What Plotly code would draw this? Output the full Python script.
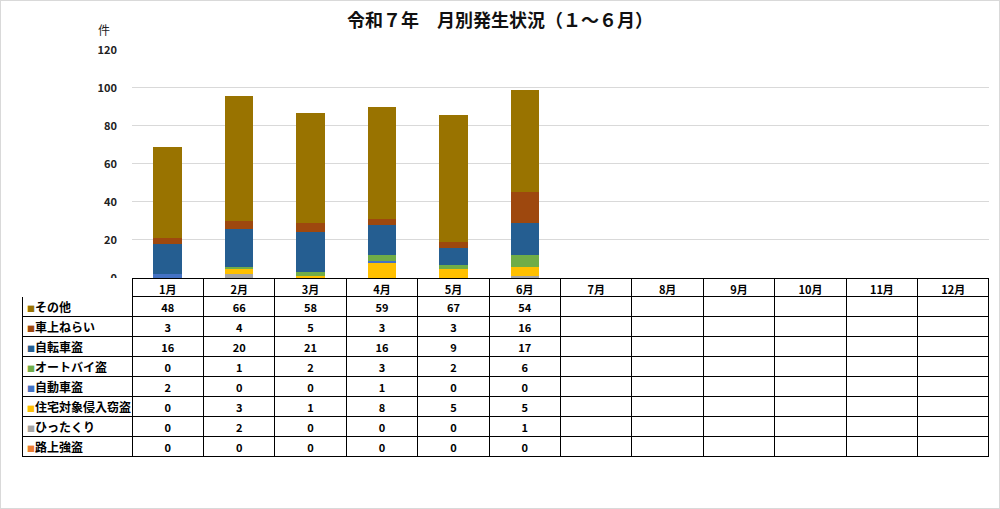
import plotly.graph_objects as go

# 月
months = ['1月', '2月', '3月', '4月', '5月', '6月', '7月', '8月', '9月', '10月', '11月', '12月']

# 罪種（表の上から順）
crimes = ['その他', '車上ねらい', '自転車盗', 'オートバイ盗', '自動車盗', '住宅対象侵入窃盗', 'ひったくり', '路上強盗']

# 件数（1～6月）
sonota = [48, 66, 58, 59, 67, 54]
shajo = [3, 4, 5, 3, 3, 16]
jitensha = [16, 20, 21, 16, 9, 17]
autobai = [0, 1, 2, 3, 2, 6]
jidosha = [2, 0, 0, 1, 0, 0]
jutaku = [0, 3, 1, 8, 5, 5]
hittakuri = [0, 2, 0, 0, 0, 1]
rojo = [0, 0, 0, 0, 0, 0]

values = [sonota, shajo, jitensha, autobai, jidosha, jutaku, hittakuri, rojo]
colors = ['#997300', '#9E480E', '#255E91', '#70AD47', '#4472C4', '#FFC000', '#A5A5A5', '#ED7D31']

W, H = 1000, 509
font = 'Noto Sans CJK JP'

# table geometry (px)
tab_top, head_h, row_h = 278, 18, 20
tab_bottom = tab_top + head_h + row_h * len(crimes)

fig = go.Figure()

# 積み上げ棒（下から 路上強盗 → その他）
for name, vals, col in reversed(list(zip(crimes, values, colors))):
    fig.add_trace(go.Bar(
        x=months[:len(vals)],
        y=vals,
        name=name,
        marker=dict(color=col, line=dict(width=0)),
        width=0.4,
        showlegend=False
    ))

# データテーブル（先頭列は凡例ラベル用の空欄）
cols = [[''] * len(crimes)]
for i, m in enumerate(months):
    cols.append([str(v[i]) if i < len(v) else '' for v in values])

fig.add_trace(go.Table(
    domain=dict(x=[22 / W, 989 / W], y=[1 - (tab_bottom + 20) / H, 1 - tab_top / H]),
    columnwidth=[110] + [71.4] * 12,
    header=dict(
        values=[''] + months,
        height=head_h,
        align='center',
        fill_color='white',
        line=dict(color=['white'] + ['black'] * 12, width=1),
        font=dict(family=font, size=11, color='black', weight='bold')
    ),
    cells=dict(
        values=cols,
        height=row_h,
        align='center',
        fill_color='white',
        line=dict(color='black', width=1),
        font=dict(family=font, size=11, color='black', weight='bold')
    )
))

# 凡例ラベル
annotations = [dict(
    text='件', xref='paper', yref='paper',
    x=104 / W, y=1 - 30 / H, xanchor='center', yanchor='middle',
    showarrow=False, font=dict(family=font, size=12, color='#222222')
)]
for k, (name, col) in enumerate(zip(crimes, colors)):
    yc = tab_top + head_h + row_h * (k + 0.5)
    annotations.append(dict(
        text='<span style="color:%s;font-size:8px">■</span>%s' % (col, name),
        xref='paper', yref='paper',
        x=25 / W, y=1 - yc / H, xanchor='left', yanchor='middle',
        showarrow=False, font=dict(family=font, size=12, color='black', weight='bold')
    ))

fig.update_layout(
    width=W, height=H,
    margin=dict(l=0, r=0, t=0, b=0, autoexpand=False),
    paper_bgcolor='white',
    plot_bgcolor='white',
    barmode='stack',
    font=dict(family=font, color='#222222'),
    title=dict(
        text='令和７年　月別発生状況（１～６月）',
        x=0.5, xanchor='center', y=1 - 21 / H, yanchor='middle',
        font=dict(family=font, size=18, color='#111111', weight='bold')
    ),
    xaxis=dict(
        domain=[132 / W, 989 / W],
        type='category',
        categoryorder='array',
        categoryarray=months,
        range=[-0.5, 11.5],
        showticklabels=False,
        showgrid=False,
        ticks=''
    ),
    yaxis=dict(
        domain=[1 - tab_top / H, 1 - 49 / H],
        range=[0, 120.5],
        tickvals=[0, 20, 40, 60, 80, 100, 120],
        showgrid=True,
        gridcolor='#D9D9D9',
        gridwidth=1,
        zeroline=False,
        tickfont=dict(family=font, size=11, color='#222222', weight='bold'),
        ticklabelstandoff=14
    ),
    annotations=annotations,
    shapes=[dict(
        type='rect', xref='paper', yref='paper',
        x0=0, x1=1, y0=0, y1=1,
        line=dict(color='#D9D9D9', width=2)
    )]
)

fig.write_html('out.html', config={'displayModeBar': False},
               post_script="document.body.style.margin='0';")
